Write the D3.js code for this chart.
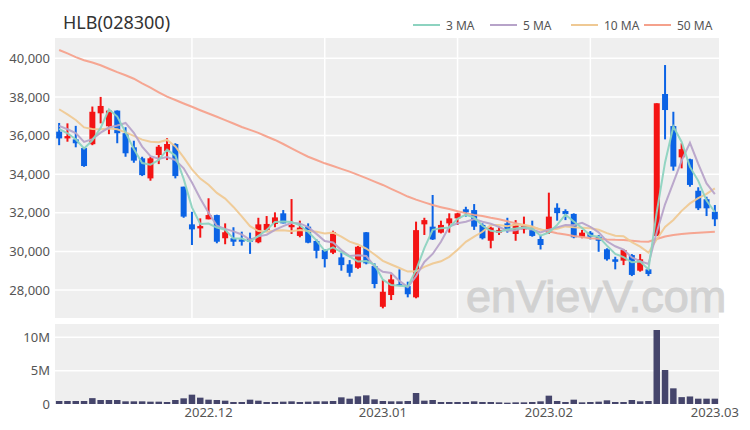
<!DOCTYPE html>
<html><head><meta charset="utf-8">
<script src="https://cdn.jsdelivr.net/npm/d3@7/dist/d3.min.js"></script>
<style>
html,body{margin:0;padding:0;background:#fff;}
svg{display:block;font-family:"Noto Sans","Open Sans",sans-serif;}
</style></head>
<body><svg id="c" width="750" height="430"></svg>
<script>
const title = "HLB(028300)";
const dates = [
"2022-11-07","2022-11-08","2022-11-09","2022-11-10","2022-11-11","2022-11-14","2022-11-15","2022-11-16","2022-11-17","2022-11-18",
"2022-11-21","2022-11-22","2022-11-23","2022-11-24","2022-11-25","2022-11-28","2022-11-29","2022-11-30",
"2022-12-01","2022-12-02","2022-12-05","2022-12-06","2022-12-07","2022-12-08","2022-12-09","2022-12-12","2022-12-13","2022-12-14",
"2022-12-15","2022-12-16","2022-12-19","2022-12-20","2022-12-21","2022-12-22","2022-12-23","2022-12-26","2022-12-27","2022-12-28","2022-12-29",
"2023-01-02","2023-01-03","2023-01-04","2023-01-05","2023-01-06","2023-01-09","2023-01-10","2023-01-11","2023-01-12","2023-01-13",
"2023-01-16","2023-01-17","2023-01-18","2023-01-19","2023-01-20","2023-01-25","2023-01-26","2023-01-27","2023-01-30","2023-01-31",
"2023-02-01","2023-02-02","2023-02-03","2023-02-06","2023-02-07","2023-02-08","2023-02-09","2023-02-10","2023-02-13","2023-02-14",
"2023-02-15","2023-02-16","2023-02-17","2023-02-20","2023-02-21","2023-02-22","2023-02-23","2023-02-24","2023-02-27","2023-02-28",
"2023-03-02"];
const open  = [36200,35850,35800,35350,35550,37150,36480,37290,36120,35390,34820,33780,34990,35200,35560,33350,31400,31190,31660,31880,
               30680,30680,30620,30680,30470,31110,31420,31970,31250,30800,31280,30540,30070,29930,29690,29330,29150,30990,29240,27130,
               27740,28300,28200,27620,31400,31280,30970,31450,31710,32180,32140,31370,30550,30970,31450,30900,31140,31100,30640,30970,
               32260,32090,31940,30760,30970,30760,30110,29590,29520,29810,29000,29070,30800,38150,36490,34870,34770,33140,32700,32050];
const high  = [36650,36630,36500,35400,37500,38000,37300,37300,36430,35730,34900,34900,35510,35860,35600,33350,32050,31710,32750,31900,
               31450,31250,31020,30970,31740,31830,32020,32140,32710,31590,31450,30620,30110,31070,29930,29550,30280,31000,29380,28520,
               28810,29070,28430,31540,31740,32920,31590,31970,32000,32310,32450,31450,31280,31280,31740,31620,31800,31590,30850,33040,
               32490,32180,31970,31110,31050,30850,30160,29720,30110,29860,29860,29120,37670,39650,37230,35600,34800,33320,32830,32400];
const low   = [35500,35680,35390,34380,35500,36630,36070,35600,34900,34590,33900,33660,34520,34730,33780,31740,30330,30710,31660,30420,
               30370,30280,30300,29870,30420,31020,31250,31450,30900,30730,30420,29640,29170,29860,29000,28690,29100,29330,28090,27050,
               27480,28200,27620,27570,30850,30590,30930,30970,31370,31800,31110,30620,30160,30850,30970,30550,30930,30760,30100,30900,
               31590,31620,30680,30680,30620,29980,29520,29070,29290,28720,28950,28720,30800,35800,34180,34300,33350,32140,31830,31310];
const close = [35850,35970,35600,34420,37230,37530,37290,36120,35080,34700,33950,34820,35420,35560,33900,31800,31140,31310,31880,30500,
               30990,30500,30500,30500,31400,31420,31760,31450,31370,31230,30450,30030,29600,30990,29290,28890,30240,29380,28310,27910,
               28550,28210,27780,31100,31620,30620,31370,31710,31970,32020,31280,30680,31230,31110,31050,31400,31310,30800,30330,31800,
               31980,31930,30730,30970,30760,30550,29590,29460,30070,28780,29590,28830,37670,37320,34390,35290,33440,32230,32230,31660];
const volume = [450000,450000,450000,450000,880000,600000,600000,600000,400000,400000,400000,350000,350000,300000,600000,850000,1400000,950000,650000,600000,
                500000,300000,300000,650000,500000,300000,300000,350000,400000,300000,350000,400000,400000,450000,1000000,800000,1150000,1300000,700000,450000,
                400000,400000,450000,1650000,500000,600000,300000,300000,300000,300000,400000,300000,300000,250000,200000,250000,250000,300000,400000,1250000,
                450000,300000,650000,250000,300000,350000,550000,300000,300000,600000,400000,450000,11100000,5100000,2350000,1030000,1130000,800000,800000,800000];
// closes before the first visible day, estimated from where the 3/5/10-day averages start
const prevCloses = [38600,38500,38300,38000,37700,36850,36600,36675,36525];
// 50-day average
const ma50 = [40430,40250,40060,39900,39780,39640,39460,39280,39120,38940,38700,38480,38240,38010,37840,37660,37490,37310,37140,36970,
              36800,36620,36440,36290,36140,35950,35770,35560,35330,35110,34900,34730,34560,34420,34270,34130,33960,33790,33610,33440,
              33240,33040,32840,32680,32540,32400,32290,32190,32080,31980,31890,31830,31740,31660,31560,31460,31350,31250,31140,31040,
              30940,30870,30800,30740,30680,30650,30620,30600,30590,30550,30510,30500,30640,30770,30850,30900,30935,30960,30990,31020];
const priceTicks = [28000,30000,32000,34000,36000,38000,40000];
const volumeTicks = [0,5000000,10000000];
const maNames = ["3 MA","5 MA","10 MA","50 MA"];
const maColors = ["#8dd3c0","#b7a3c9","#efc994","#f5a18c"];

const svg = d3.select("#c");
const L = 55, R = 719;
const PT = 38, PB = 318, VT = 324, VB = 404;
const N = dates.length;
const x = d3.scaleBand().domain(d3.range(N)).range([L, R]).padding(0);
const cx = i => x(i) + x.bandwidth()/2;
const py = d3.scaleLinear().domain([26550, 41050]).range([PB, PT]);
const vy = d3.scaleLinear().domain([0, 12000000]).range([VB, VT]);

// panels
svg.append("rect").attr("x",L).attr("y",PT).attr("width",R-L).attr("height",PB-PT).attr("fill","#efefef");
svg.append("rect").attr("x",L).attr("y",VT).attr("width",R-L).attr("height",VB-VT).attr("fill","#efefef");

// price grid
svg.append("g").selectAll("line").data(priceTicks).join("line")
  .attr("x1",L).attr("x2",R).attr("y1",d=>py(d)).attr("y2",d=>py(d))
  .attr("stroke","#fff").attr("stroke-width",1.5);
const vgrid = d3.range(16, N, 16);
svg.append("g").selectAll("line").data(vgrid).join("line")
  .attr("x1",d=>cx(d)).attr("x2",d=>cx(d)).attr("y1",PT).attr("y2",PB)
  .attr("stroke","#fff").attr("stroke-width",1.5);
// volume grid
svg.append("g").selectAll("line").data(volumeTicks.filter(d=>d>0)).join("line")
  .attr("x1",L).attr("x2",R).attr("y1",d=>vy(d)).attr("y2",d=>vy(d))
  .attr("stroke","#fff").attr("stroke-width",1.5);

// watermark
svg.append("text").attr("x",466).attr("y",312).text("enVievV.com")
  .attr("fill","#c6c6c6").attr("stroke","#c6c6c6").attr("stroke-width",1.1)
  .attr("opacity",0.72)
  .style("font-family","'Liberation Sans',Arial,sans-serif").style("font-size","45px");

// axes
const yAxis = svg.append("g").attr("transform",`translate(${L},0)`)
  .call(d3.axisLeft(py).tickValues(priceTicks).tickFormat(d3.format(",")).tickSize(0).tickPadding(5));
const vAxis = svg.append("g").attr("transform",`translate(${L},0)`)
  .call(d3.axisLeft(vy).tickValues(volumeTicks).tickFormat(d=>d===0?"0":(d/1e6)+"M").tickSize(0).tickPadding(5));
const monthStarts = d3.range(1, N).filter(i => dates[i].slice(0,7) !== dates[i-1].slice(0,7));
const xAxis = svg.append("g").attr("transform",`translate(0,${VB})`)
  .call(d3.axisBottom(x).tickValues(monthStarts).tickFormat(i => dates[i].slice(0,7).replace("-",".")).tickSize(0).tickPadding(4));
[yAxis, vAxis, xAxis].forEach(g => {
  g.select(".domain").remove();
  g.selectAll("text").attr("fill","#555").style("font-size","13px").style("font-family","'Noto Sans',sans-serif");
});

// volume bars
const vbw = x.bandwidth()*0.78;
svg.append("g").selectAll("rect").data(d3.range(N)).join("rect")
  .attr("x",i=>cx(i)-vbw/2).attr("width",vbw)
  .attr("y",i=>vy(volume[i])).attr("height",i=>vy(0)-vy(volume[i]))
  .attr("fill","#45456b");

// candles
const up = "#f41414", down = "#0b63e5";
const col = i => close[i] >= open[i] ? up : down;
const bw = x.bandwidth()*0.72;
const cg = svg.append("g");
cg.selectAll("rect.w").data(d3.range(N)).join("rect").attr("class","w")
  .attr("x",i=>cx(i)-1).attr("width",2)
  .attr("y",i=>py(high[i])).attr("height",i=>Math.max(1,py(low[i])-py(high[i])))
  .attr("fill",col);
cg.selectAll("rect.b").data(d3.range(N)).join("rect").attr("class","b")
  .attr("x",i=>cx(i)-bw/2).attr("width",bw)
  .attr("y",i=>py(Math.max(open[i],close[i])))
  .attr("height",i=>Math.max(1.5,Math.abs(py(open[i])-py(close[i]))))
  .attr("fill",col);

// moving averages
const allClose = prevCloses.concat(close);
const P = prevCloses.length;
const ma = n => d3.range(N).map(i => d3.mean(allClose.slice(P+i-n+1, P+i+1)));
const maSeries = [ma(3), ma(5), ma(10), ma50];
const line = d3.line().x((d,i)=>cx(i)).y(d=>py(d));
[3,2,1,0].forEach(k => {
  svg.append("path").datum(maSeries[k]).attr("d",line)
    .attr("fill","none").attr("stroke",maColors[k]).attr("stroke-width",2).attr("opacity",0.95);
});

// title
svg.append("text").attr("x",63).attr("y",29).text(title)
  .attr("fill","#333").style("font-size","18px");

// legend
const legX = [413, 490, 571, 644];
const lg = svg.append("g");
maNames.forEach((n,k) => {
  lg.append("line").attr("x1",legX[k]).attr("x2",legX[k]+27).attr("y1",25).attr("y2",25)
    .attr("stroke",maColors[k]).attr("stroke-width",2);
  lg.append("text").attr("x",legX[k]+33).attr("y",29.5).text(n)
    .attr("fill","#555").style("font-size","12px");
});
</script></body></html>
